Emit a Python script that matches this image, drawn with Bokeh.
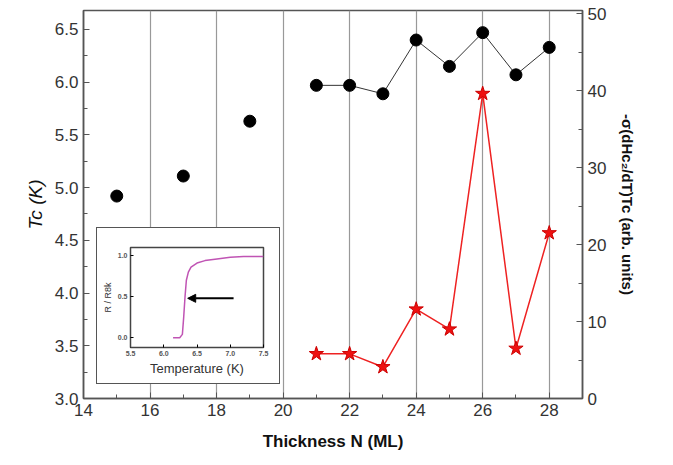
from bokeh.plotting import figure
from bokeh.models import (Range1d, LinearAxis, SingleIntervalTicker, NumeralTickFormatter,
                          Arrow, NormalHead, ColumnDataSource)
from bokeh.embed import file_html
from bokeh.resources import INLINE

# ---- main data ----
tc_n = [15, 17, 19, 21, 22, 23, 24, 25, 26, 27, 28]
tc_k = [4.92, 5.11, 5.63, 5.97, 5.97, 5.89, 6.40, 6.15, 6.47, 6.07, 6.33]
line_n = [21, 22, 23, 24, 25, 26, 27, 28]
line_tc = [5.97, 5.97, 5.89, 6.40, 6.15, 6.47, 6.07, 6.33]
slope_n = [21, 22, 23, 24, 25, 26, 27, 28]
slope_v = [5.8, 5.8, 4.1, 11.6, 9.0, 39.6, 6.5, 21.5]
x_ticks = [14, 16, 18, 20, 22, 24, 26, 28]

# ---- inset data ----
temp_k = [6.14, 6.24, 6.28, 6.30, 6.32, 6.34, 6.37, 6.41, 6.50, 6.62, 6.80, 7.00, 7.20, 7.50]
r_ratio = [0.0, 0.0, 0.04, 0.25, 0.50, 0.70, 0.80, 0.86, 0.91, 0.94, 0.96, 0.98, 0.99, 0.99]
arrow_x = [7.05, 6.36]
arrow_y = [0.48, 0.48]

FONT = "Liberation Sans"
AX = "#555555"
TXT = "#333333"

p = figure(width=673, height=465, output_backend="svg", toolbar_location=None,
           x_range=Range1d(14, 29), y_range=Range1d(3.0, 6.68),
           min_border_left=83, min_border_right=91, min_border_top=10, min_border_bottom=67)
p.extra_y_ranges = {"r": Range1d(0, 50.4)}
p.outline_line_color = AX
p.outline_line_width = 1.5
p.background_fill_color = "white"

p.xaxis.ticker = SingleIntervalTicker(interval=2, num_minor_ticks=2)
p.yaxis.ticker = SingleIntervalTicker(interval=0.5, num_minor_ticks=2)
p.yaxis.formatter = NumeralTickFormatter(format="0.0")
p.ygrid.visible = False
p.xgrid.ticker = SingleIntervalTicker(interval=2)
p.xgrid.grid_line_color = "#999999"
p.xgrid.grid_line_width = 1.2

ra = LinearAxis(y_range_name="r", ticker=SingleIntervalTicker(interval=10, num_minor_ticks=2))
p.add_layout(ra, "right")

for ax in [p.xaxis[0], p.yaxis[0], ra]:
    ax.axis_line_color = AX
    ax.axis_line_width = 1.5
    ax.major_tick_line_color = AX
    ax.minor_tick_line_color = AX
    ax.major_tick_in = 6
    ax.major_tick_out = 0
    ax.minor_tick_in = 4
    ax.minor_tick_out = 0
    ax.major_label_text_font = FONT
    ax.major_label_text_font_size = "17px"
    ax.major_label_text_color = TXT
    ax.axis_label_text_font = FONT
    ax.axis_label_text_color = "#111111"

p.xaxis.axis_label = "Thickness N (ML)"
p.xaxis.axis_label_text_font_style = "bold"
p.xaxis.axis_label_text_font_size = "17px"
p.xaxis.axis_label_standoff = 13
p.yaxis.axis_label = "Tc (K)"
p.yaxis.axis_label_text_font_style = "italic"
p.yaxis.axis_label_text_font_size = "19px"
p.yaxis.axis_label_standoff = 6
ra.axis_label = "-σ(dHc₂/dT)Tc (arb. units)"
ra.axis_label_text_font_style = "bold"
ra.axis_label_text_font_size = "15px"
ra.axis_label_standoff = 10

p.line(line_n, line_tc, line_color="#333333", line_width=1)
p.scatter(tc_n, tc_k, marker="circle", size=12, fill_color="black", line_color="black")
p.line(slope_n, slope_v, y_range_name="r", line_color="#ee2222", line_width=1.5)
p.scatter(slope_n, slope_v, y_range_name="r", marker="star", size=15,
          fill_color="#ee1111", line_color="#cc0000")

# ---- inset ----
q = figure(width=182, height=155, output_backend="svg", toolbar_location=None,
           x_range=Range1d(5.5, 7.5), y_range=Range1d(-0.12, 1.1),
           min_border_left=33, min_border_right=16, min_border_top=19, min_border_bottom=36,
           styles={"position": "absolute", "left": "97px", "top": "228px",
                   "outline": "1.5px solid #555555", "background": "white"})
q.outline_line_color = "#444444"
q.outline_line_width = 1.5
q.grid.visible = False
q.xaxis.ticker = SingleIntervalTicker(interval=0.5, num_minor_ticks=0)
q.yaxis.ticker = SingleIntervalTicker(interval=0.5, num_minor_ticks=0)
q.xaxis.formatter = NumeralTickFormatter(format="0.0")
q.yaxis.formatter = NumeralTickFormatter(format="0.0")
for ax in [q.xaxis[0], q.yaxis[0]]:
    ax.axis_line_color = "#444444"
    ax.major_tick_in = 3
    ax.major_tick_out = 0
    ax.major_label_text_font = FONT
    ax.major_label_text_font_size = "7px"
    ax.major_label_text_font_style = "bold"
    ax.major_label_text_color = "#555555"
    ax.axis_label_text_font = FONT
    ax.axis_label_text_font_style = "normal"
    ax.axis_label_text_color = "#333333"
    ax.major_label_standoff = 3
q.xaxis.axis_label = "Temperature (K)"
q.xaxis.axis_label_text_font_size = "13px"
q.xaxis.axis_label_standoff = 2
q.yaxis.axis_label = "R / R8k"
q.yaxis.axis_label_text_font_size = "9px"
q.yaxis.axis_label_standoff = 2
q.line(temp_k, r_ratio, line_color="#c054b4", line_width=1.5)
src = ColumnDataSource(dict(x0=[arrow_x[0]], y0=[arrow_y[0]], x1=[arrow_x[1]], y1=[arrow_y[1]]))
q.add_layout(Arrow(source=src, x_start="x0", y_start="y0", x_end="x1", y_end="y1",
                   line_width=2, line_color="black",
                   end=NormalHead(size=8, fill_color="black", line_color="black")))

open("out.html", "w").write(file_html([p, q], INLINE))
